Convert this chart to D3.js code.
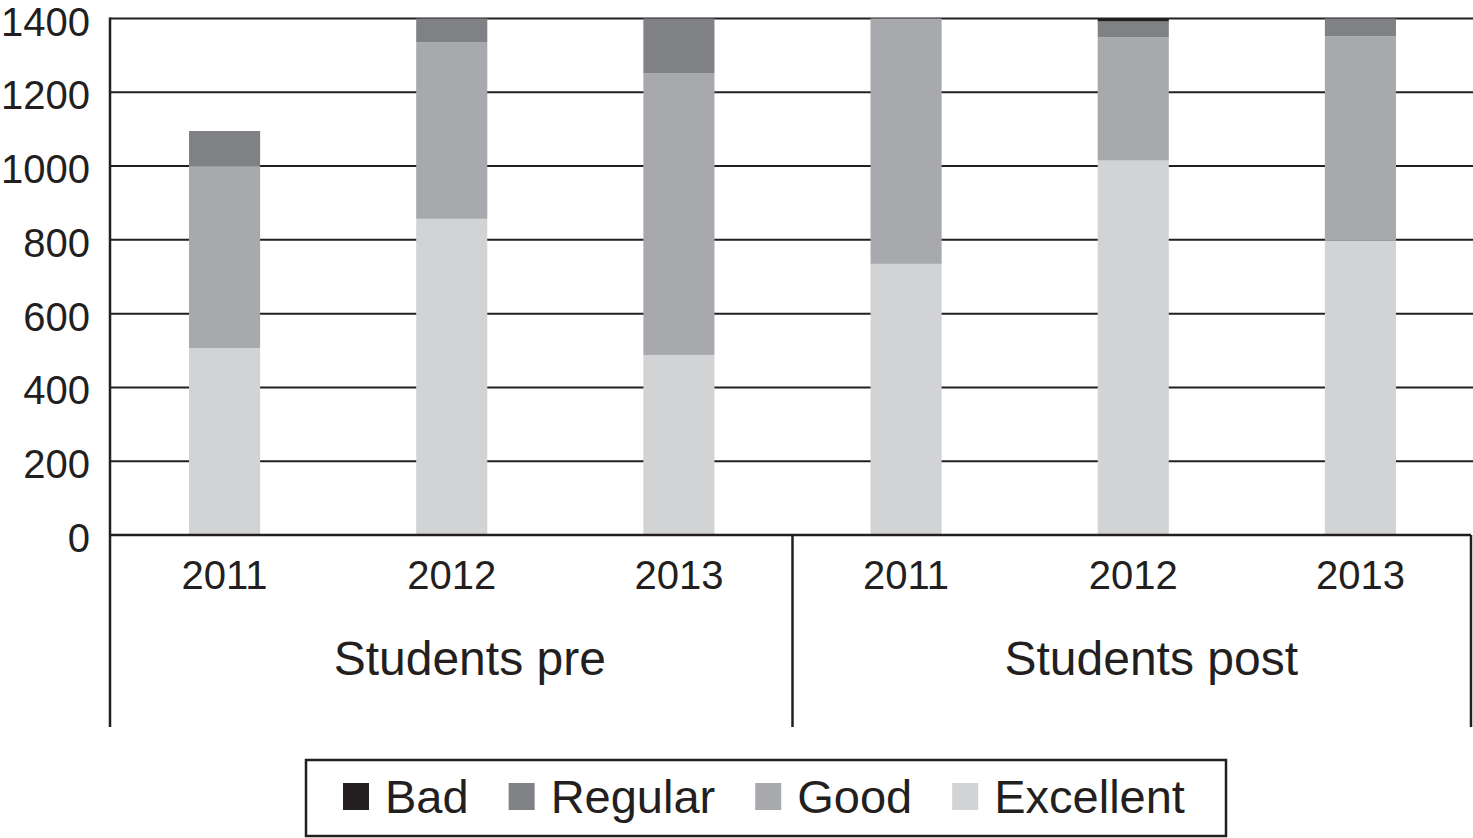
<!DOCTYPE html>
<html>
<head>
<meta charset="utf-8">
<script src="https://cdn.jsdelivr.net/npm/d3@7"></script>
<style>
  html, body { margin: 0; padding: 0; background: #fff; }
  svg { display: block; font-family: "Liberation Sans", Arial, Helvetica, sans-serif; }
</style>
</head>
<body>
<svg id="chart" width="1473" height="838"></svg>
<script>
// ---- data ----
const groups = ["Students pre", "Students post"];
const years = ["2011", "2012", "2013"];
const seriesNames = ["Bad", "Regular", "Good", "Excellent"];
const excellent = [507, 857, 488, 735, 1015, 798];
const good      = [493, 479, 763, 665, 334, 554];
const regular   = [95, 64, 149, 0, 43, 48];
const bad       = [0, 0, 0, 0, 8, 0];
const yTicks = [0, 200, 400, 600, 800, 1000, 1200, 1400];
const colors = { Bad: "#231f20", Regular: "#808184", Good: "#a7a9ac", Excellent: "#d1d3d4" };

(function () {
// ---- build rows ----
const rows = [];
groups.forEach((g, gi) => years.forEach((yr, yi) => {
  const i = gi * years.length + yi;
  rows.push({ key: g + "|" + yr, group: g, year: yr,
    Excellent: excellent[i], Good: good[i], Regular: regular[i], Bad: bad[i] });
}));

const svg = d3.select("#chart");
const pLeft = 110, pRight = 1471, pTop = 18.5, pBottom = 535;
const ink = "#231f20";

const x = d3.scaleBand().domain(rows.map(r => r.key)).range([111, 1474]);
const y = d3.scaleLinear().domain([0, 1400]).range([pBottom, pTop]);
const barW = x.bandwidth() * 0.313;

// gridlines
svg.append("g").selectAll("line").data(yTicks.filter(t => t > 0)).join("line")
  .attr("x1", pLeft).attr("x2", 1473)
  .attr("y1", d => y(d)).attr("y2", d => y(d))
  .attr("stroke", ink).attr("stroke-width", 2);

// stacked bars (bottom to top: Excellent, Good, Regular, Bad)
const stack = d3.stack().keys(["Excellent", "Good", "Regular", "Bad"]);
const stacked = stack(rows);
svg.append("clipPath").attr("id", "clip").append("rect")
  .attr("x", pLeft).attr("y", pTop - 1).attr("width", 1473 - pLeft).attr("height", pBottom - pTop + 1);
const barsG = svg.append("g").attr("clip-path", "url(#clip)");
stacked.forEach(layer => {
  barsG.append("g").attr("fill", colors[layer.key])
    .selectAll("rect").data(layer).join("rect")
    .attr("x", d => x(d.data.key) + x.bandwidth() / 2 - barW / 2)
    .attr("width", barW)
    .attr("y", d => y(d[1]))
    .attr("height", d => Math.max(0, y(d[0]) - y(d[1])));
});

// y axis labels
svg.append("g").selectAll("text").data(yTicks).join("text")
  .attr("x", 90).attr("y", d => y(d) + 17)
  .attr("text-anchor", "end").attr("font-size", 40).attr("fill", ink)
  .text(d => d);

// axis frame
const divX = x(rows[3].key);
svg.append("line").attr("x1", pLeft).attr("x2", pRight).attr("y1", pBottom).attr("y2", pBottom)
  .attr("stroke", ink).attr("stroke-width", 2.5);
svg.append("line").attr("x1", pLeft).attr("x2", pLeft).attr("y1", pTop - 1).attr("y2", 727)
  .attr("stroke", ink).attr("stroke-width", 2.5);
[divX, pRight].forEach(px => {
  svg.append("line").attr("x1", px).attr("x2", px).attr("y1", pBottom).attr("y2", 727)
    .attr("stroke", ink).attr("stroke-width", 2.5);
});

// year labels
svg.append("g").selectAll("text").data(rows).join("text")
  .attr("x", d => x(d.key) + x.bandwidth() / 2)
  .attr("y", 589).attr("text-anchor", "middle")
  .attr("font-size", 40).attr("fill", ink)
  .text(d => d.year);

// group labels
groups.forEach((g, gi) => {
  const x0 = x(rows[gi * 3].key), x1 = x(rows[gi * 3 + 2].key) + x.bandwidth();
  svg.append("text").attr("x", (x0 + x1) / 2 + 18).attr("y", 675)
    .attr("text-anchor", "middle").attr("font-size", 48).attr("fill", ink)
    .text(g);
});

// legend
const lg = svg.append("g");
lg.append("rect").attr("x", 306).attr("y", 760).attr("width", 920).attr("height", 76)
  .attr("fill", "none").attr("stroke", ink).attr("stroke-width", 2.5);
let cx = 343;
seriesNames.forEach(name => {
  lg.append("rect").attr("x", cx).attr("y", 783).attr("width", 26).attr("height", 27)
    .attr("fill", colors[name]);
  const t = lg.append("text").attr("x", cx + 42).attr("y", 813)
    .attr("font-size", 47).attr("fill", ink).text(name);
  const w = t.node().getComputedTextLength();
  cx = cx + 42 + w + 40;
});
})();
</script>
</body>
</html>
